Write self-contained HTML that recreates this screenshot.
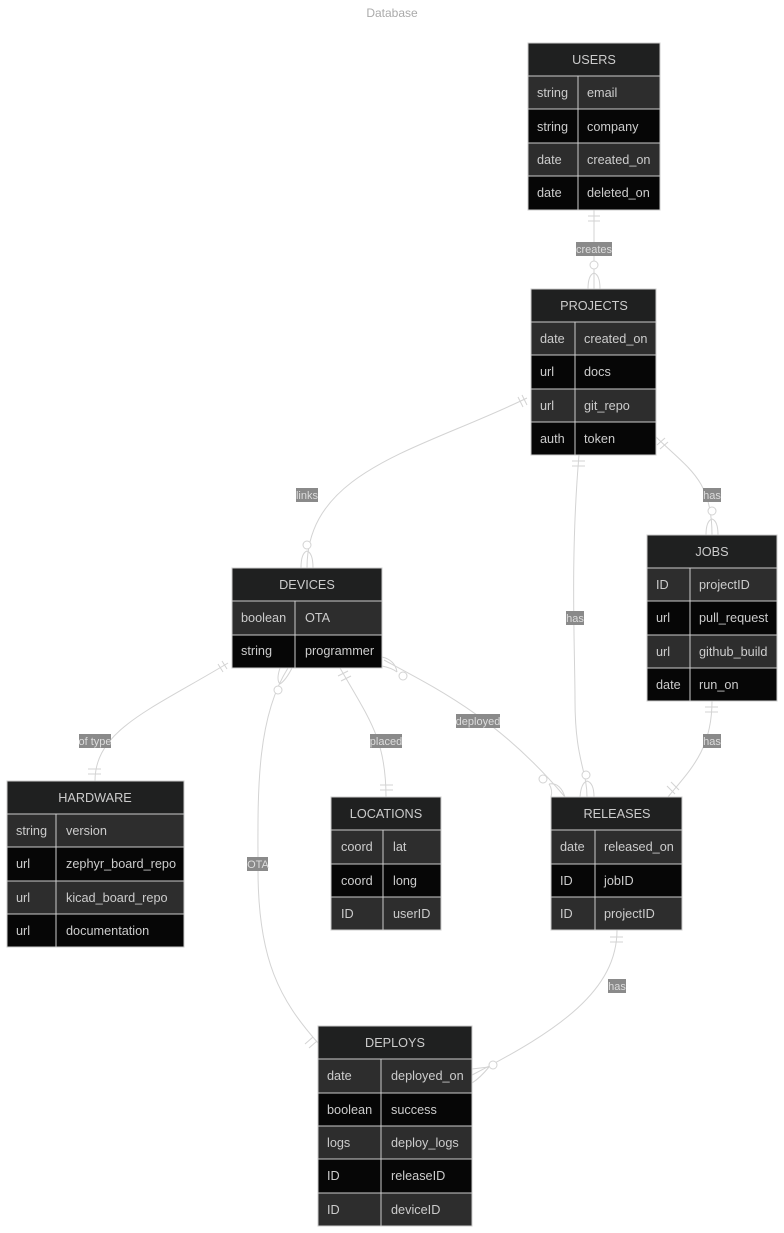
<!DOCTYPE html>
<html><head><meta charset="utf-8"><style>
html,body{margin:0;padding:0;background:#fff;}
svg{display:block;font-family:"Liberation Sans",sans-serif;}
.h{fill:#1f2020;stroke:#ccc;stroke-width:1}
.a{fill:#2d2d2d;stroke:#ccc;stroke-width:1}
.b{fill:#060606;stroke:#ccc;stroke-width:1}
text{fill:#ccc;font-size:12.7px;}
.ht{text-anchor:middle;}
.e{fill:none;stroke:#d3d3d3;stroke-width:1}
.c{fill:#fff;stroke:#d3d3d3;stroke-width:1}
.lb{fill:#8a8a8a;}
.lt{fill:#ddd;font-size:11px;text-anchor:middle;}
</style></head><body>
<svg width="784" height="1233" viewBox="0 0 784 1233">
<text x="392" y="17" class="ht" style="fill:#aaa;font-size:12px">Database</text>

<path class="e" d="M594,210 L594,289"/>
<path class="e" d="M588,216h12M588,221h12"/>
<circle class="c" cx="594" cy="265" r="4"/>
<path class="e" d="M588,289 Q588,275 594,273 Q600,275 600,289"/>
<rect class="lb" x="576" y="242" width="36" height="14"/><text class="lt" x="594" y="253">creates</text>

<path class="e" d="M527,398 C420,450 307,470 307,568"/>
<path class="e" d="M518,397l5,10M522,395l5,10"/>
<circle class="c" cx="307" cy="545" r="4"/>
<path class="e" d="M301,568 Q301,553 307,551 Q313,553 313,568"/>
<rect class="lb" x="296" y="488" width="22" height="14"/><text class="lt" x="307" y="499">links</text>

<path class="e" d="M656,437 C690,470 712,480 712,535"/>
<path class="e" d="M657,445l8,-7M660,449l8,-7"/>
<circle class="c" cx="712" cy="511" r="4"/>
<path class="e" d="M706,535 Q706,521 712,519 Q718,521 718,535"/>
<rect class="lb" x="703" y="488" width="18" height="14"/><text class="lt" x="712" y="499">has</text>

<path class="e" d="M579,455 C570,560 575,650 575,700 C575,760 587,770 587,797"/>
<path class="e" d="M572,461h13M572,466h13"/>
<circle class="c" cx="586" cy="775" r="4"/>
<path class="e" d="M580,797 Q581,783 587,781 Q594,783 594,797"/>
<rect class="lb" x="566" y="611" width="18" height="14"/><text class="lt" x="575" y="622">has</text>

<path class="e" d="M712,701 C712,750 690,770 668,797"/>
<path class="e" d="M705,707h13M705,712h13M667,786l8,8M671,782l8,8"/>
<rect class="lb" x="703" y="734" width="18" height="14"/><text class="lt" x="712" y="745">has</text>

<path class="e" d="M228,663 C150,710 95,730 95,781"/>
<path class="e" d="M218,664l5,8M222,661l5,8M88,769h13M88,774h13"/>
<rect class="lb" x="79" y="734" width="32" height="14"/><text class="lt" x="95" y="745">of type</text>

<path class="e" d="M340,668 C370,720 386,740 386,797"/>
<path class="e" d="M338,676l10,-5M341,681l10,-5M380,785h13M380,790h13"/>
<rect class="lb" x="370" y="734" width="32" height="14"/><text class="lt" x="386" y="745">placed</text>

<path class="e" d="M384,660 C440,690 500,720 565,797"/>
<circle class="c" cx="403" cy="676" r="4"/>
<path class="e" d="M382,657 Q395,660 397,672 M382,666 Q392,668 397,672"/>
<circle class="c" cx="543" cy="779" r="4"/>
<path class="e" d="M549,784 Q560,782 565,797 M549,784 Q553,790 551,797"/>
<rect class="lb" x="456" y="714" width="44" height="14"/><text class="lt" x="478" y="725">deployed</text>

<path class="e" d="M288,668 C255,720 258,800 258,870 C258,960 280,1000 318,1043"/>
<circle class="c" cx="278" cy="690" r="4"/>
<path class="e" d="M280,668 Q276,680 280,684 M292,668 Q286,680 280,684"/>
<path class="e" d="M305,1044l8,-7M309,1048l8,-7"/>
<rect class="lb" x="247" y="857" width="21" height="14"/><text class="lt" x="258" y="868">OTA</text>

<path class="e" d="M617,930 C617,990 560,1030 472,1075"/>
<path class="e" d="M610,937h13M610,942h13"/>
<circle class="c" cx="493" cy="1065" r="4"/>
<path class="e" d="M489,1067 Q480,1068 472,1069 M489,1067 Q480,1078 472,1083"/>
<rect class="lb" x="608" y="979" width="18" height="14"/><text class="lt" x="617" y="990">has</text>

<rect class="h" x="528" y="43" width="132" height="33"/><text class="ht" x="594" y="64">USERS</text>
<rect class="a" x="528" y="76" width="50" height="33"/><rect class="a" x="578" y="76" width="82" height="33"/>
<rect class="b" x="528" y="109" width="50" height="34"/><rect class="b" x="578" y="109" width="82" height="34"/>
<rect class="a" x="528" y="143" width="50" height="33"/><rect class="a" x="578" y="143" width="82" height="33"/>
<rect class="b" x="528" y="176" width="50" height="34"/><rect class="b" x="578" y="176" width="82" height="34"/>
<text x="537" y="97">string</text><text x="587" y="97">email</text>
<text x="537" y="131">string</text><text x="587" y="131">company</text>
<text x="537" y="164">date</text><text x="587" y="164">created_on</text>
<text x="537" y="197">date</text><text x="587" y="197">deleted_on</text>

<rect class="h" x="531" y="289" width="125" height="33"/><text class="ht" x="594" y="310">PROJECTS</text>
<rect class="a" x="531" y="322" width="44" height="33"/><rect class="a" x="575" y="322" width="81" height="33"/>
<rect class="b" x="531" y="355" width="44" height="34"/><rect class="b" x="575" y="355" width="81" height="34"/>
<rect class="a" x="531" y="389" width="44" height="33"/><rect class="a" x="575" y="389" width="81" height="33"/>
<rect class="b" x="531" y="422" width="44" height="33"/><rect class="b" x="575" y="422" width="81" height="33"/>
<text x="540" y="343">date</text><text x="584" y="343">created_on</text>
<text x="540" y="376">url</text><text x="584" y="376">docs</text>
<text x="540" y="410">url</text><text x="584" y="410">git_repo</text>
<text x="540" y="443">auth</text><text x="584" y="443">token</text>

<rect class="h" x="647" y="535" width="130" height="33"/><text class="ht" x="712" y="556">JOBS</text>
<rect class="a" x="647" y="568" width="43" height="33"/><rect class="a" x="690" y="568" width="87" height="33"/>
<rect class="b" x="647" y="601" width="43" height="34"/><rect class="b" x="690" y="601" width="87" height="34"/>
<rect class="a" x="647" y="635" width="43" height="33"/><rect class="a" x="690" y="635" width="87" height="33"/>
<rect class="b" x="647" y="668" width="43" height="33"/><rect class="b" x="690" y="668" width="87" height="33"/>
<text x="656" y="589">ID</text><text x="699" y="589">projectID</text>
<text x="656" y="622">url</text><text x="699" y="622">pull_request</text>
<text x="656" y="656">url</text><text x="699" y="656">github_build</text>
<text x="656" y="689">date</text><text x="699" y="689">run_on</text>

<rect class="h" x="232" y="568" width="150" height="33"/><text class="ht" x="307" y="589">DEVICES</text>
<rect class="a" x="232" y="601" width="63" height="34"/><rect class="a" x="295" y="601" width="87" height="34"/>
<rect class="b" x="232" y="635" width="63" height="33"/><rect class="b" x="295" y="635" width="87" height="33"/>
<text x="241" y="622">boolean</text><text x="305" y="622">OTA</text>
<text x="241" y="655">string</text><text x="305" y="655">programmer</text>

<rect class="h" x="7" y="781" width="177" height="33"/><text class="ht" x="95" y="802">HARDWARE</text>
<rect class="a" x="7" y="814" width="49" height="33"/><rect class="a" x="56" y="814" width="128" height="33"/>
<rect class="b" x="7" y="847" width="49" height="34"/><rect class="b" x="56" y="847" width="128" height="34"/>
<rect class="a" x="7" y="881" width="49" height="33"/><rect class="a" x="56" y="881" width="128" height="33"/>
<rect class="b" x="7" y="914" width="49" height="33"/><rect class="b" x="56" y="914" width="128" height="33"/>
<text x="16" y="835">string</text><text x="66" y="835">version</text>
<text x="16" y="868">url</text><text x="66" y="868">zephyr_board_repo</text>
<text x="16" y="902">url</text><text x="66" y="902">kicad_board_repo</text>
<text x="16" y="935">url</text><text x="66" y="935">documentation</text>

<rect class="h" x="331" y="797" width="110" height="33"/><text class="ht" x="386" y="818">LOCATIONS</text>
<rect class="a" x="331" y="830" width="52" height="34"/><rect class="a" x="383" y="830" width="58" height="34"/>
<rect class="b" x="331" y="864" width="52" height="33"/><rect class="b" x="383" y="864" width="58" height="33"/>
<rect class="a" x="331" y="897" width="52" height="33"/><rect class="a" x="383" y="897" width="58" height="33"/>
<text x="341" y="851">coord</text><text x="393" y="851">lat</text>
<text x="341" y="885">coord</text><text x="393" y="885">long</text>
<text x="341" y="918">ID</text><text x="393" y="918">userID</text>

<rect class="h" x="551" y="797" width="131" height="33"/><text class="ht" x="617" y="818">RELEASES</text>
<rect class="a" x="551" y="830" width="44" height="34"/><rect class="a" x="595" y="830" width="87" height="34"/>
<rect class="b" x="551" y="864" width="44" height="33"/><rect class="b" x="595" y="864" width="87" height="33"/>
<rect class="a" x="551" y="897" width="44" height="33"/><rect class="a" x="595" y="897" width="87" height="33"/>
<text x="560" y="851">date</text><text x="604" y="851">released_on</text>
<text x="560" y="885">ID</text><text x="604" y="885">jobID</text>
<text x="560" y="918">ID</text><text x="604" y="918">projectID</text>

<rect class="h" x="318" y="1026" width="154" height="33"/><text class="ht" x="395" y="1047">DEPLOYS</text>
<rect class="a" x="318" y="1059" width="63" height="34"/><rect class="a" x="381" y="1059" width="91" height="34"/>
<rect class="b" x="318" y="1093" width="63" height="33"/><rect class="b" x="381" y="1093" width="91" height="33"/>
<rect class="a" x="318" y="1126" width="63" height="33"/><rect class="a" x="381" y="1126" width="91" height="33"/>
<rect class="b" x="318" y="1159" width="63" height="34"/><rect class="b" x="381" y="1159" width="91" height="34"/>
<rect class="a" x="318" y="1193" width="63" height="33"/><rect class="a" x="381" y="1193" width="91" height="33"/>
<text x="327" y="1080">date</text><text x="391" y="1080">deployed_on</text>
<text x="327" y="1114">boolean</text><text x="391" y="1114">success</text>
<text x="327" y="1147">logs</text><text x="391" y="1147">deploy_logs</text>
<text x="327" y="1180">ID</text><text x="391" y="1180">releaseID</text>
<text x="327" y="1214">ID</text><text x="391" y="1214">deviceID</text>
</svg>
</body></html>
